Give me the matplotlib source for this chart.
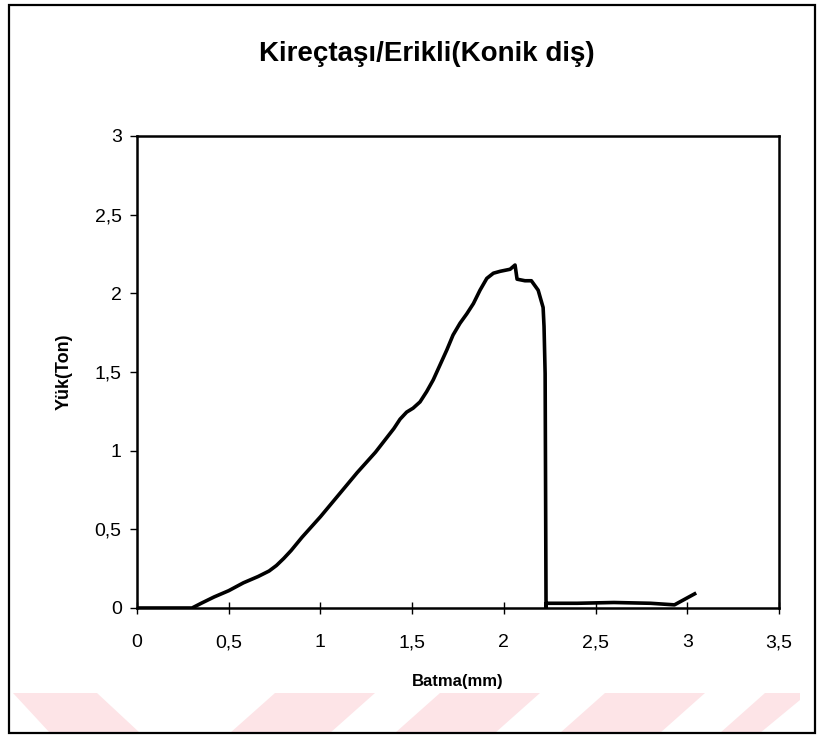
import matplotlib.pyplot as plt
from matplotlib.patches import Polygon, Rectangle
from matplotlib.ticker import FuncFormatter

plt.rcParams['font.family'] = ['Liberation Sans', 'DejaVu Sans']

# batma (mm) and yük (ton)
batma = [0.0, 0.30, 0.35, 0.42, 0.50, 0.58, 0.66, 0.72, 0.76, 0.80, 0.84,
         0.90, 1.00, 1.10, 1.20, 1.30, 1.40, 1.434, 1.47, 1.505, 1.543,
         1.579, 1.615, 1.652, 1.689, 1.723, 1.761, 1.798, 1.834, 1.870,
         1.907, 1.943, 1.98, 2.034, 2.061, 2.072, 2.115, 2.15, 2.187, 2.214,
         2.219, 2.225, 2.23, 2.23, 2.40, 2.60, 2.80, 2.93, 3.04]
yuk = [0.0, 0.0, 0.03, 0.07, 0.11, 0.16, 0.20, 0.235, 0.27, 0.315, 0.365,
       0.45, 0.58, 0.72, 0.86, 0.99, 1.14, 1.20, 1.245, 1.27, 1.31,
       1.375, 1.45, 1.545, 1.64, 1.735, 1.81, 1.87, 1.935, 2.02,
       2.095, 2.128, 2.14, 2.153, 2.18, 2.09, 2.08, 2.08, 2.02, 1.91,
       1.79, 1.49, 0.0, 0.03, 0.03, 0.035, 0.03, 0.02, 0.09]

xticks = [0, 0.5, 1, 1.5, 2, 2.5, 3, 3.5]
yticks = [0, 0.5, 1, 1.5, 2, 2.5, 3]

fig = plt.figure(figsize=(8.18, 7.36), dpi=100)


def fig_pts(pix):
    # pixel (from top-left) -> figure fraction
    return [(px / 818, 1 - py / 736) for px, py in pix]


# faint pink watermark stripes at the bottom
stripes = [[(13, 693), (97, 693), (140, 733), (50, 733)],
           [(275, 693), (375, 693), (330, 733), (230, 733)],
           [(440, 693), (540, 693), (495, 733), (395, 733)],
           [(605, 693), (705, 693), (660, 733), (560, 733)],
           [(765, 693), (800, 693), (800, 700), (760, 733), (720, 733)]]
for s in stripes:
    fig.patches.append(Polygon(fig_pts(s), closed=True, transform=fig.transFigure,
                               facecolor='#fde4e7', edgecolor='none', zorder=0))

# outer frame
fig.patches.append(Rectangle((9 / 818, 1 - 733 / 736), 806 / 818, 728 / 736,
                             transform=fig.transFigure, fill=False,
                             edgecolor='black', linewidth=1.6))

ax = fig.add_axes([137 / 818, 1 - 608 / 736, 642 / 818, 472 / 736])
ax.plot(batma, yuk, color='black', linewidth=2.6, solid_joinstyle='round')

ax.set_xlim(0, 3.5)
ax.set_ylim(0, 3)
ax.set_xticks(xticks)
ax.set_yticks(yticks)
fmt = FuncFormatter(lambda v, p: ('%g' % v).replace('.', ','))
ax.xaxis.set_major_formatter(fmt)
ax.yaxis.set_major_formatter(fmt)
ax.tick_params(axis='x', direction='inout', length=8, width=1, labelsize=14, pad=15)
ax.tick_params(axis='y', direction='out', length=5, width=1, labelsize=14, pad=6)
for sp in ax.spines.values():
    sp.set_linewidth(1.8)

ax.set_xlabel('Batma(mm)', fontsize=12, fontweight='bold', labelpad=16)
ax.set_ylabel('Yük(Ton)', fontsize=13, fontweight='bold', labelpad=16)
fig.text(427 / 818, 1 - 54 / 736, 'Kireçtaşı/Erikli(Konik diş)',
         ha='center', va='center', fontsize=20, fontweight='bold')

plt.savefig('out.png', dpi=100)
